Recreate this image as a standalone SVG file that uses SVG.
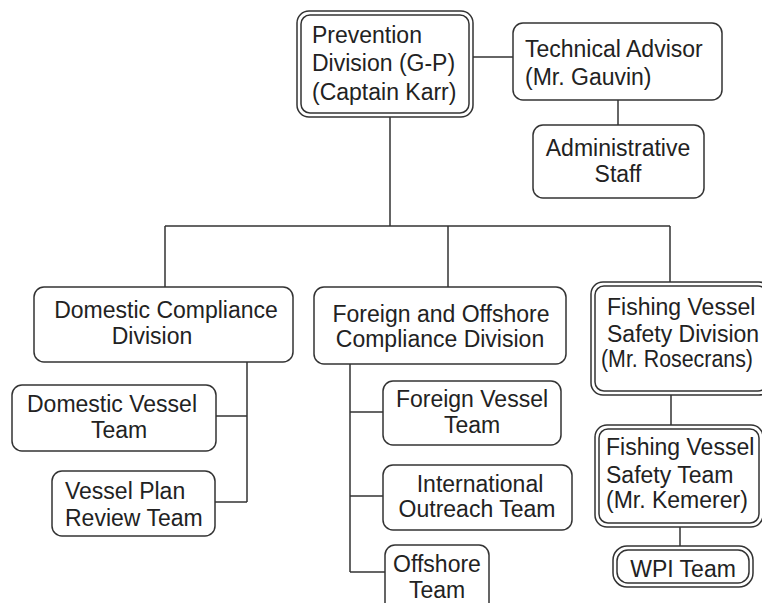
<svg xmlns="http://www.w3.org/2000/svg" width="762" height="603" viewBox="0 0 762 603">
<style>
.b{fill:#fff;stroke:#333;stroke-width:1.5}
.c{fill:none;stroke:#333;stroke-width:1.5}
text{font-family:"Liberation Sans",Arial,sans-serif;font-size:23px;fill:#222}
.m{text-anchor:middle}
</style>
<rect width="762" height="603" fill="#fff"/>
<g id="connectors" class="c">
<path d="M473 57H513"/>
<path d="M618 100V125"/>
<path d="M390 117V226M165 226H670M165 226V287M448 226V287M670 226V282"/>
<path d="M247 362V502M216 416H247M215 502H247"/>
<path d="M350 364V572M350 412H383M350 496H383M350 572H385"/>
<path d="M671 395V425"/>
<path d="M680 527V546"/>
</g>
<g id="prevention">
<rect class="b" x="297" y="11" width="176" height="106" rx="12"/>
<rect class="b" x="301" y="15" width="168" height="98" rx="9"/>
<text x="312" y="43">Prevention</text>
<text x="312" y="71">Division (G-P)</text>
<text x="312" y="100">(Captain Karr)</text>
</g>
<g id="technical-advisor">
<rect class="b" x="513" y="23" width="209" height="77" rx="10"/>
<text x="525" y="57">Technical Advisor</text>
<text x="525" y="85">(Mr. Gauvin)</text>
</g>
<g id="administrative-staff">
<rect class="b" x="533" y="125" width="171" height="73" rx="10"/>
<text class="m" x="618" y="156">Administrative</text>
<text class="m" x="618" y="182">Staff</text>
</g>
<g id="domestic-compliance">
<rect class="b" x="34" y="287" width="259" height="75" rx="10"/>
<text class="m" x="166" y="318">Domestic Compliance</text>
<text class="m" x="152" y="344">Division</text>
</g>
<g id="domestic-vessel">
<rect class="b" x="12" y="385" width="204" height="66" rx="10"/>
<text class="m" x="112" y="412">Domestic Vessel</text>
<text class="m" x="119" y="438">Team</text>
</g>
<g id="vessel-plan-review">
<rect class="b" x="52" y="471" width="163" height="65" rx="10"/>
<text x="65" y="499">Vessel Plan</text>
<text x="65" y="526">Review Team</text>
</g>
<g id="foreign-offshore">
<rect class="b" x="314" y="287" width="252" height="77" rx="10"/>
<text class="m" x="441" y="322">Foreign and Offshore</text>
<text class="m" x="440" y="347">Compliance Division</text>
</g>
<g id="foreign-vessel">
<rect class="b" x="383" y="381" width="178" height="64" rx="10"/>
<text class="m" x="472" y="407">Foreign Vessel</text>
<text class="m" x="472" y="433">Team</text>
</g>
<g id="international-outreach">
<rect class="b" x="383" y="465" width="189" height="65" rx="10"/>
<text class="m" x="480" y="492">International</text>
<text class="m" x="477" y="517">Outreach Team</text>
</g>
<g id="offshore">
<rect class="b" x="385" y="545" width="104" height="70" rx="10"/>
<text class="m" x="437" y="572">Offshore</text>
<text class="m" x="437" y="598">Team</text>
</g>
<g id="fishing-division">
<rect class="b" x="591" y="282" width="180" height="113" rx="12"/>
<rect class="b" x="595" y="286" width="172" height="105" rx="9"/>
<text x="607" y="315">Fishing Vessel</text>
<text x="607" y="342">Safety Division</text>
<text x="601" y="367" textLength="152" lengthAdjust="spacingAndGlyphs">(Mr. Rosecrans)</text>
</g>
<g id="fishing-team">
<rect class="b" x="595" y="425" width="168" height="102" rx="12"/>
<rect class="b" x="599" y="429" width="160" height="94" rx="9"/>
<text x="606" y="455">Fishing Vessel</text>
<text x="606" y="483">Safety Team</text>
<text x="606" y="508">(Mr. Kemerer)</text>
</g>
<g id="wpi-team">
<rect class="b" x="613" y="546" width="140" height="41" rx="14"/>
<rect class="b" x="617" y="550" width="132" height="33" rx="11"/>
<text class="m" x="683" y="577">WPI Team</text>
</g>
</svg>
